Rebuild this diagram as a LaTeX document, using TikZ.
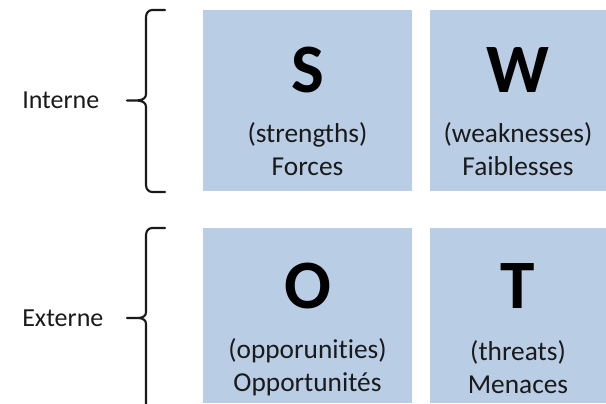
\documentclass[tikz,border=0pt]{standalone}
\usepackage{fontspec}
\setmainfont{Carlito}[Ligatures=NoCommon]
\definecolor{swotfill}{HTML}{B9CDE5}
\definecolor{ink}{HTML}{1A1A1A}
\begin{document}
\begin{tikzpicture}[x=0.75pt,y=-0.75pt,
  quad/.style={rectangle, fill=swotfill, draw=none, inner sep=0pt, outer sep=0pt},
  letter/.style={font=\fontsize{52}{52}\selectfont\bfseries, text=black, inner sep=0pt},
  caption/.style={font=\fontsize{20.5}{25}\selectfont, text=ink, align=center, inner sep=0pt},
  side/.style={font=\fontsize{19.5}{24}\selectfont, text=ink, inner sep=0pt},
  bracket/.style={draw=ink, line width=1.6pt, line join=round, line cap=round}]
\useasboundingbox (0,0) rectangle (606,403);

% the four quadrants
\node[quad, minimum width=156.75pt, minimum height=135.75pt] (qS) at (307.5,100.5) {};
\node[quad, minimum width=132pt, minimum height=135.75pt] (qW) at (518,100.5) {};
\node[quad, minimum width=156.75pt, minimum height=131.25pt] (qO) at (307.5,315.5) {};
\node[quad, minimum width=132pt, minimum height=131.25pt] (qT) at (518,315.5) {};

% letters and captions
\node[letter] (lS) at (307.5,70) {S};
\node[caption] (cS) at (307.5,149) {(strengths)\\Forces};
\node[letter] (lW) at (518,70) {W};
\node[caption] (cW) at (518,149) {(weaknesses)\\Faiblesses};
\node[letter] (lO) at (307.5,286) {O};
\node[caption] (cO) at (307.5,367) {(opporunities)\\Opportunités};
\node[letter] (lT) at (518,286) {T};
\node[caption] (cT) at (518,367) {(threats)\\Menaces};

% side labels
\node[side, anchor=west] (int) at (22,100.5) {Interne};
\node[side, anchor=west] (ext) at (22,318) {Externe};

% curly brackets
\draw[bracket] (165,10) -- (152,10) to[out=180,in=90] (146,17)
  -- (146,94) to[out=270,in=0] (127,100.5)
  to[out=0,in=90] (146,107) -- (146,185) to[out=270,in=180] (152,192) -- (165,192);
\draw[bracket] (165,228) -- (152,228) to[out=180,in=90] (146,235)
  -- (146,312) to[out=270,in=0] (127,318)
  to[out=0,in=90] (146,324) -- (146,410);
\end{tikzpicture}
\end{document}
